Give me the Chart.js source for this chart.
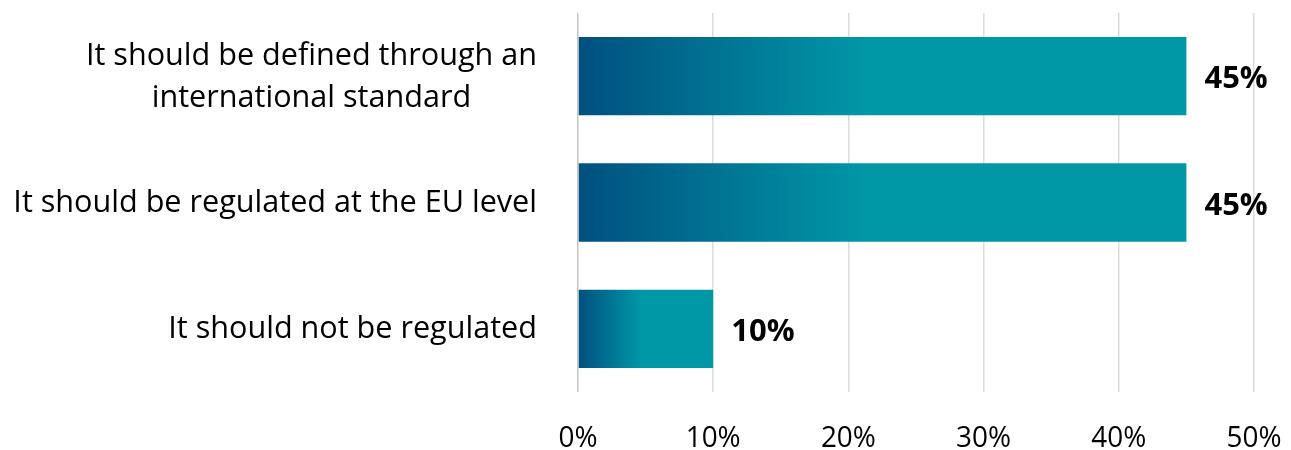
<!DOCTYPE html>
<html>
<head>
<meta charset="utf-8">
<script src="https://cdn.jsdelivr.net/npm/chart.js@4/dist/chart.umd.min.js"></script>
<style>
  html, body { margin: 0; padding: 0; background: #fff; }
  #wrap { width: 1291px; height: 450px; }
</style>
</head>
<body>
<div id="wrap"><canvas id="chart" width="1291" height="450"></canvas></div>
<script>
// answers, one array of lines per category
const categories = [
  ['It should be defined through an', 'international standard'],
  ['It should be regulated at the EU level'],
  ['It should not be regulated']
];
const shares = [45, 45, 10];
const xTicks = [0, 10, 20, 30, 40, 50];
const xTickLabels = ['0%', '10%', '20%', '30%', '40%', '50%'];

const FONT = '"Open Sans", sans-serif';
const DARK = '#00507f';
const TEAL = '#0097a7';

// fade from dark blue to teal over the first part of each bar
function barFill(c) {
  const chart = c.chart;
  const x = chart.scales.x;
  if (!chart.chartArea || !x || c.raw == null) return TEAL;
  const x0 = x.getPixelForValue(0);
  const x1 = x.getPixelForValue(c.raw);
  const g = chart.ctx.createLinearGradient(x0, 0, x0 + (x1 - x0) * 0.47, 0);
  g.addColorStop(0, DARK);
  g.addColorStop(1, TEAL);
  return g;
}

const labelsPlugin = {
  id: 'labels',
  afterDraw(chart) {
    const ctx = chart.ctx;
    const xs = chart.scales.x, ys = chart.scales.y;
    ctx.save();
    ctx.fillStyle = '#000';

    // category names, right aligned block, lines centred inside it
    ctx.font = '30.6px ' + FONT;
    ctx.textBaseline = 'alphabetic';
    ctx.textAlign = 'center';
    const right = chart.chartArea.left - 41;
    categories.forEach((lines, i) => {
      const yc = ys.getPixelForValue(i);
      const w = Math.max(...lines.map(l => ctx.measureText(l).width));
      lines.forEach((l, j) => {
        ctx.fillText(l, right - w / 2, yc + (j - (lines.length - 1) / 2) * 42.3 + 9.5);
      });
    });

    // value labels at the bar ends
    ctx.font = 'bold 31px ' + FONT;
    ctx.textAlign = 'left';
    chart.getDatasetMeta(0).data.forEach((bar, i) => {
      ctx.fillText(shares[i] + '%', bar.x + 18, bar.y + 12);
    });

    // slightly narrowed percentage ticks under the grid
    ctx.font = '30px ' + FONT;
    ctx.textAlign = 'center';
    xTicks.forEach((v, i) => {
      ctx.save();
      ctx.translate(xs.getPixelForValue(v), 446.5);
      ctx.scale(0.93, 1);
      ctx.fillText(xTickLabels[i], 0, 0);
      ctx.restore();
    });
    ctx.restore();
  }
};

new Chart(document.getElementById('chart'), {
  type: 'bar',
  data: {
    labels: categories,
    datasets: [{
      data: shares,
      backgroundColor: barFill,
      borderWidth: 0,
      barPercentage: 0.62,
      categoryPercentage: 1
    }]
  },
  options: {
    indexAxis: 'y',
    responsive: false,
    animation: false,
    devicePixelRatio: 1,
    layout: { padding: { left: 578, right: 37, top: 13, bottom: 58 } },
    plugins: { legend: { display: false }, tooltip: { enabled: false } },
    scales: {
      x: {
        min: 0,
        max: 50,
        ticks: { display: false, stepSize: 10 },
        border: { display: false },
        grid: {
          drawTicks: false,
          color: c => (c.tick && c.tick.value === 0 ? '#c4c4c4' : '#dcdcdc'),
          lineWidth: 1.5
        }
      },
      y: {
        ticks: { display: false },
        border: { display: false },
        grid: { display: false, drawTicks: false }
      }
    }
  },
  plugins: [labelsPlugin]
});
</script>
</body>
</html>
